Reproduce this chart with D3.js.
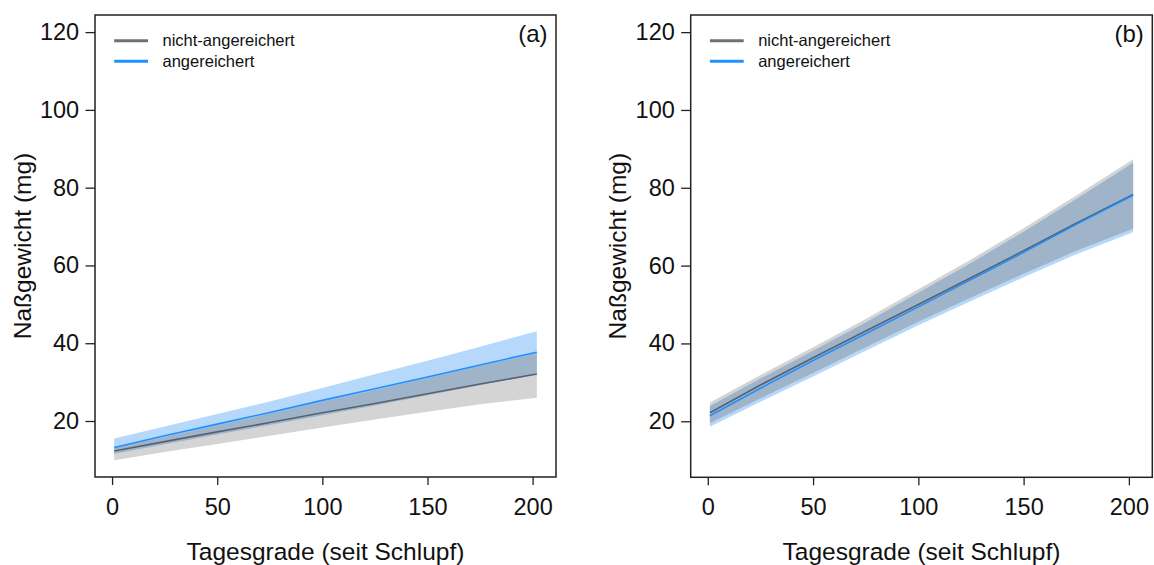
<!DOCTYPE html>
<html>
<head>
<meta charset="utf-8">
<script src="https://cdn.jsdelivr.net/npm/d3@7"></script>
<style>
  html, body { margin: 0; padding: 0; background: #fff; }
  svg { display: block; font-family: "Liberation Sans", Arial, Helvetica, sans-serif; }
</style>
</head>
<body>
<svg id="chart" width="1154" height="565"></svg>
<script>
// ---- data ----
const xVals = [1, 25, 50, 75, 100, 125, 150, 175, 202];
const xTicks = [0, 50, 100, 150, 200];
const yTicks = [20, 40, 60, 80, 100, 120];
const seriesNames = ["nicht-angereichert", "angereichert"];
const panelLabels = ["(a)", "(b)"];
const xTitle = "Tagesgrade (seit Schlupf)";
const yTitle = "Naßgewicht (mg)";

// panel (a)
const aNichtFit = [12.3, 14.7, 17.2, 19.6, 22.1, 24.5, 27.0, 29.5, 32.1];
const aNichtLo  = [9.9, 12.0, 14.1, 16.2, 18.3, 20.4, 22.4, 24.3, 26.0];
const aNichtHi  = [13.2, 15.9, 18.9, 21.9, 25.0, 28.0, 31.1, 34.2, 37.4];
const aAngFit   = [13.2, 16.2, 19.2, 22.2, 25.3, 28.3, 31.3, 34.4, 37.7];
const aAngLo    = [11.6, 14.0, 16.5, 19.0, 21.5, 24.0, 26.6, 29.2, 32.0];
const aAngHi    = [15.5, 18.6, 21.8, 25.0, 28.5, 32.0, 35.5, 39.1, 43.1];

// panel (b)
const bNichtFit = [22.2, 29.3, 36.3, 43.2, 50.0, 56.9, 63.8, 70.9, 78.3];
const bNichtLo  = [19.5, 25.9, 32.4, 39.0, 45.6, 51.8, 57.9, 63.8, 69.5];
const bNichtHi  = [24.8, 31.9, 39.0, 46.3, 53.9, 61.6, 69.6, 78.0, 87.3];
const bAngFit   = [21.4, 28.5, 35.6, 42.5, 49.4, 56.4, 63.4, 70.6, 78.1];
const bAngLo    = [18.6, 25.0, 31.5, 38.1, 44.7, 50.9, 57.0, 62.9, 68.6];
const bAngHi    = [23.9, 31.0, 38.1, 45.4, 53.0, 60.7, 68.7, 77.1, 86.4];

const xLim = [0, 203];
const yLim = [10, 120];

// ---- style ----
const col = {
  grayBand: "#d4d4d4",
  blueBand: "#b5d8fb",
  overlap: "#a0b4c9",
  grayLine: "#58626e",
  blueLine: "#1e90ff",
  legendGray: "#707070",
  text: "#111"
};

const svg = d3.select("#chart");

function extend(lim) {
  const d = (lim[1] - lim[0]) * 0.04;
  return [lim[0] - d, lim[1] + d];
}

const panels = [
  { left: 95, right: 556, top: 15, bottom: 477, yTitleX: 30.5, data: {
      nFit: aNichtFit, nLo: aNichtLo, nHi: aNichtHi, aFit: aAngFit, aLo: aAngLo, aHi: aAngHi } },
  { left: 690.7, right: 1152.3, top: 15, bottom: 477.3, yTitleX: 625.5, data: {
      nFit: bNichtFit, nLo: bNichtLo, nHi: bNichtHi, aFit: bAngFit, aLo: bAngLo, aHi: bAngHi } }
];

panels.forEach((p, pi) => {
  const g = svg.append("g");
  const x = d3.scaleLinear().domain(extend(xLim)).range([p.left, p.right]);
  const y = d3.scaleLinear().domain(extend(yLim)).range([p.bottom, p.top]);
  const d = p.data;

  const rows = xVals.map((xv, i) => ({
    x: xv,
    nFit: d.nFit[i], nLo: d.nLo[i], nHi: d.nHi[i],
    aFit: d.aFit[i], aLo: d.aLo[i], aHi: d.aHi[i]
  }));

  const area = (lo, hi) => d3.area().x(r => x(r.x)).y0(lo).y1(hi);

  // gray band
  g.append("path").datum(rows)
    .attr("d", area(r => y(r.nLo), r => y(r.nHi)))
    .attr("fill", col.grayBand);
  // blue band
  g.append("path").datum(rows)
    .attr("d", area(r => y(r.aLo), r => y(r.aHi)))
    .attr("fill", col.blueBand);
  // overlap region
  g.append("path").datum(rows)
    .attr("d", area(r => y(Math.max(r.nLo, r.aLo)), r => y(Math.min(r.nHi, r.aHi))))
    .attr("fill", col.overlap);

  const line = key => d3.line().x(r => x(r.x)).y(r => y(r[key]));
  g.append("path").datum(rows)
    .attr("d", line("nFit"))
    .attr("fill", "none").attr("stroke", col.grayLine).attr("stroke-width", 1.6);
  g.append("path").datum(rows)
    .attr("d", line("aFit"))
    .attr("fill", "none").attr("stroke", col.blueLine).attr("stroke-width", 1.6);

  // box
  g.append("rect")
    .attr("x", p.left).attr("y", p.top)
    .attr("width", p.right - p.left).attr("height", p.bottom - p.top)
    .attr("fill", "none").attr("stroke", "#222").attr("stroke-width", 1.5);

  // axes
  const ax = g.append("g")
    .attr("transform", `translate(0,${p.bottom})`)
    .call(d3.axisBottom(x).tickValues(xTicks).tickSize(8).tickPadding(13.5).tickSizeOuter(0));
  ax.select(".domain").remove();
  ax.selectAll("line").attr("stroke", "#222").attr("stroke-width", 1.3);
  ax.selectAll("text").attr("font-size", "23.5px").attr("fill", col.text)
    .attr("font-family", "'Liberation Sans', Arial, sans-serif");

  const ay = g.append("g")
    .attr("transform", `translate(${p.left},0)`)
    .call(d3.axisLeft(y).tickValues(yTicks).tickSize(9.5).tickPadding(6.4).tickSizeOuter(0));
  ay.select(".domain").remove();
  ay.selectAll("line").attr("stroke", "#222").attr("stroke-width", 1.3);
  ay.selectAll("text").attr("font-size", "23.5px").attr("fill", col.text)
    .attr("font-family", "'Liberation Sans', Arial, sans-serif");

  // axis titles
  g.append("text")
    .attr("x", (p.left + p.right) / 2).attr("y", 559.5)
    .attr("text-anchor", "middle").attr("font-size", "24.5px").attr("fill", col.text)
    .text(xTitle);
  g.append("text")
    .attr("transform", `translate(${p.yTitleX},${(p.top + p.bottom) / 2}) rotate(-90)`)
    .attr("text-anchor", "middle").attr("font-size", "24.5px").attr("fill", col.text)
    .text(yTitle);

  // panel label
  g.append("text")
    .attr("x", p.right - 8.5).attr("y", 41.7)
    .attr("text-anchor", "end").attr("font-size", "24px").attr("fill", col.text)
    .text(panelLabels[pi]);

  // legend
  const legColors = [col.legendGray, col.blueLine];
  const legY = [40.7, 61.3];
  seriesNames.forEach((name, i) => {
    g.append("line")
      .attr("x1", p.left + 19.2).attr("x2", p.left + 53)
      .attr("y1", legY[i]).attr("y2", legY[i])
      .attr("stroke", legColors[i]).attr("stroke-width", 3);
    g.append("text")
      .attr("x", p.left + 67.5).attr("y", legY[i]).attr("dy", "0.35em")
      .attr("font-size", "16.5px").attr("fill", col.text)
      .text(name);
  });
});
</script>
</body>
</html>
